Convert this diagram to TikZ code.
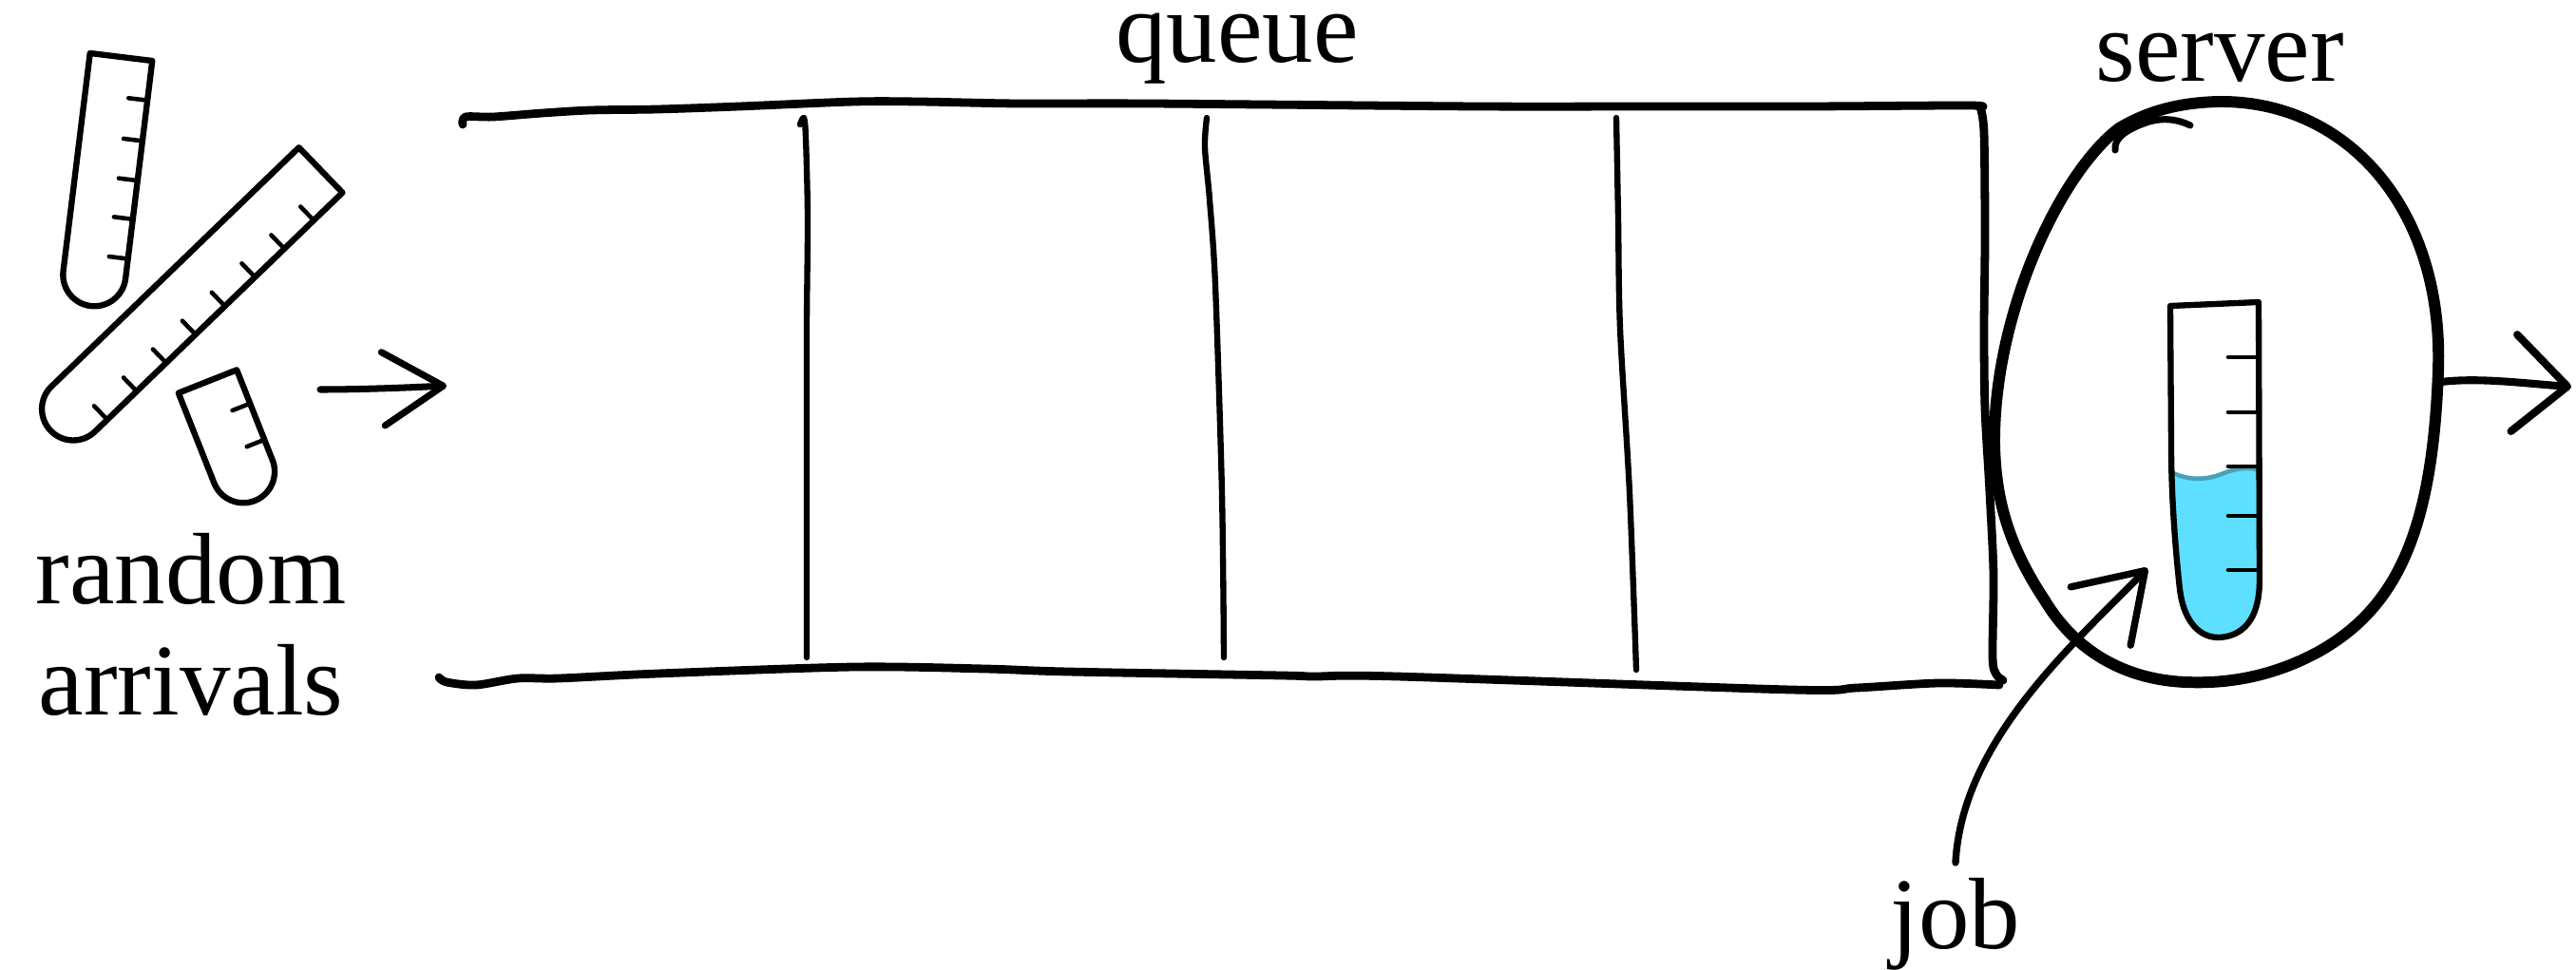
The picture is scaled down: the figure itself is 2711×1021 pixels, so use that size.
\documentclass[tikz,border=0pt]{standalone}
\usepackage{fontspec}
\setmainfont{Liberation Serif}
\usetikzlibrary{arrows.meta}
\definecolor{liquid}{RGB}{94,223,255}
\definecolor{meniscus}{RGB}{74,160,184}

\tikzset{
  ink/.style={draw=black, line cap=round, line join=round},
  boxline/.style={ink, line width=2.5pt},
  divider/.style={ink, line width=1.8pt},
  serverline/.style={ink, line width=3.4pt},
  tubeline/.style={ink, line width=1.8pt},
  tickline/.style={ink, line width=1.3pt},
  flow/.style={ink, line width=2pt},
  lbl/.style={font=\fontsize{30.4pt}{36pt}\selectfont, anchor=base, inner sep=0pt,
              text height=0.6em, text depth=0.2em},
  % test tube: straight length #1, list of tick positions #2 (measured from the rim)
  pics/testtube/.style n args={2}{code={
    \draw[tubeline] (-33,0) -- (33,0) -- (33,#1)
        arc[start angle=0, end angle=180, radius=33] -- cycle;
    \foreach \tk in {#2} \draw[tickline] (33,\tk) -- (13,\tk);
  }},
}

\begin{document}
\begin{tikzpicture}[x=0.01cm, y=-0.01cm]
\useasboundingbox (0,0) rectangle (2711,1021);

% ---- queue box (open on the left) ----
\draw[boxline] plot[smooth, tension=0.5] coordinates {
  (487,131) (490,123) (519,123) (571,119) (622,116) (692,115) (778,112) (899,107)
  (968,107) (1072,109) (1210,109) (1556,112) (1729,112) (1902,112) (2071,111) (2084,113)};
\draw[boxline] plot[smooth, tension=0.5] coordinates {
  (2084,113) (2088,140) (2089,250) (2088,346) (2089,430) (2094,519) (2098,605)
  (2097,692) (2101,710) (2108,716)};
\draw[boxline] plot[smooth, tension=0.5] coordinates {
  (2104,721) (2040,719) (1954,724) (1885,726) (1470,712) (1383,712) (1349,711)
  (1124,707) (1037,704) (899,702) (692,709) (588,714) (545,714) (501,721) (470,718) (462,713)};

% ---- slots ----
\draw[divider] plot[smooth, tension=0.5] coordinates {(842,131) (846,124) (848,145) (850,230) (849,346) (849,520) (849,692)};
\draw[divider] plot[smooth, tension=0.5] coordinates {(1270,124) (1268,155) (1273,210) (1279,300) (1286,519) (1288,692)};
\draw[divider] plot[smooth, tension=0.5] coordinates {(1701,124) (1703,230) (1705,346) (1715,519) (1722,705)};

% ---- server ----
\draw[serverline] (2334,107)
  .. controls (2470,105) and (2572,220) .. (2566,390)
  .. controls (2560,560) and (2522,640) .. (2440,686)
  .. controls (2392,712) and (2345,720) .. (2300,718)
  .. controls (2232,715) and (2182,682) .. (2152,632)
  .. controls (2112,572) and (2100,522) .. (2099,467)
  .. controls (2098,330) and (2168,182) .. (2230,135)
  .. controls (2265,114) and (2300,108) .. cycle;
\draw[ink, line width=2pt] (2226,158) .. controls (2224,145) and (2240,135) .. (2262,128)
  .. controls (2280,123) and (2295,127) .. (2305,132);

% job tube inside the server
\fill[liquid] (2287,498) .. controls (2305,506) and (2322,505) .. (2338,499)
  .. controls (2352,493) and (2366,491) .. (2378,495) -- (2378,610)
  .. controls (2378,655) and (2358,670) .. (2335,671)
  .. controls (2310,671) and (2297,647) .. (2294,620)
  .. controls (2289,575) and (2287,540) .. cycle;
\draw[meniscus, line width=1.3pt, line cap=round] (2287,498) .. controls (2305,506) and (2322,505) .. (2338,499)
  .. controls (2352,493) and (2366,491) .. (2378,495);
\draw[tubeline] (2284,322) -- (2377,318) -- (2378,610)
  .. controls (2378,655) and (2358,670) .. (2335,671)
  .. controls (2310,671) and (2297,647) .. (2294,620)
  .. controls (2289,575) and (2285,520) .. (2285,470) -- cycle;
\foreach \yy in {376,434,491,543,600} \draw[tickline] (2345,\yy) -- (2377,\yy);

% ---- arriving test tubes ----
\pic[rotate=-7]   (tubeA) at (127.5,60)   {testtube={231}{42,85,127,168,210}};
\pic[rotate=-46]  (tubeB) at (337.5,179)  {testtube={362}{42,85,128,172,215,258,301,344}};
\pic[rotate=21.6] (tubeC) at (218.5,401.5) {testtube={102}{38,79}};

% ---- labels ----
\node[lbl] (queueLbl)  at (1302,65)  {queue};
\node[lbl] (serverLbl) at (2336,85)  {server};
\node[lbl] (rndLbl)    at (201,635)  {random};
\node[lbl] (arrLbl)    at (201,752)  {arrivals};
\node[lbl] (jobLbl)    at (2058,998) {job};

% ---- arrows ----
\coordinate (arrIn)   at (337,410);
\coordinate (qIn)     at (470,406);
\coordinate (srvOut)  at (2569,402);
\coordinate (exitTip) at (2706,407);
\coordinate (jobFoot) at (2058,908);
\coordinate (jobTip)  at (2260,598);

\draw[flow, -{Straight Barb[length=18pt, width=22pt, round]}]
  (arrIn) .. controls (380,410) and (430,408) .. (qIn);
\draw[flow, line width=2.3pt, -{Straight Barb[length=16pt, width=29pt, round]}]
  (srvOut) .. controls (2610,397) and (2660,404) .. (exitTip);
\draw[flow, line width=2.1pt, -{Straight Barb[length=19pt, width=25pt, round]}]
  (jobFoot) .. controls (2065,780) and (2180,680) .. (jobTip);
\end{tikzpicture}
\end{document}
